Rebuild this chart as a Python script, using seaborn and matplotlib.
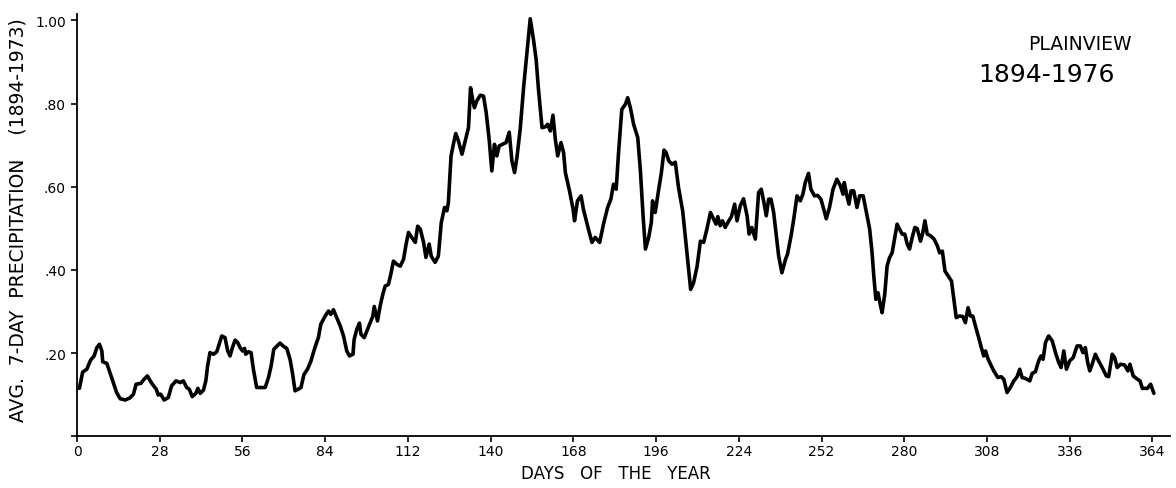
import matplotlib.pyplot as plt
import seaborn as sns
import pandas as pd

# day of year and 7-day average precipitation
day = [0.8, 1.9, 3.3, 4.6, 5.8, 6.7, 7.6, 8.4, 8.7, 10.1, 11.7, 13.4, 14.6, 16.3, 17.9, 19.1,
       20.0, 21.6, 22.7, 23.8, 25.3, 26.8, 27.5, 28.3, 29.5, 30.9, 32.0, 33.5, 34.9, 36.0, 37.1, 38.0,
       39.0, 40.2, 40.9, 41.7, 42.8, 43.6, 44.2, 45.0, 46.2, 47.3, 48.1, 49.0, 50.1, 51.0, 51.8, 52.6,
       53.5, 54.4, 55.2, 56.0, 56.7, 57.1, 58.0, 58.9, 59.7, 60.8, 62.5, 63.7, 64.8, 65.7, 66.6, 67.6,
       68.7, 69.9, 71.0, 72.1, 72.9, 73.8, 74.9, 75.8, 76.8, 78.0, 79.1, 80.0, 80.9, 81.7, 82.5, 84.0,
       85.1, 85.9, 86.8, 87.9, 89.1, 90.2, 91.3, 92.2, 93.4, 93.8, 94.7, 95.6, 96.1, 97.2, 98.1, 99.2,
       100.1, 100.6, 101.7, 102.6, 103.5, 104.3, 105.4, 106.2, 107.1, 108.3, 109.4, 110.5, 111.4, 112.2,
       113.3, 114.5, 115.3, 116.2, 117.3, 118.1, 119.2, 119.9, 121.2, 122.3, 123.3, 124.4, 125.2, 125.7,
       126.6, 127.5, 128.2, 129.1, 130.3, 131.4, 132.5, 133.2, 133.9, 134.5, 135.3, 136.5, 137.6, 138.5,
       139.5, 140.4, 141.3, 142.1, 142.9, 144.0, 145.2, 146.3, 147.2, 148.1, 148.9, 150.0, 151.2, 152.3,
       153.4, 154.5, 155.4, 156.2, 157.4, 158.5, 159.3, 160.2, 161.1, 161.9, 162.7, 163.8, 164.7, 165.3,
       166.7, 167.9, 168.4, 169.4, 170.6, 171.4, 173.1, 174.3, 175.4, 176.9, 178.2, 179.6, 180.7, 181.6,
       182.5, 183.3, 184.4, 185.6, 186.4, 187.3, 188.4, 189.8, 190.7, 191.6, 192.4, 193.5, 194.4, 194.8,
       195.7, 196.9, 197.8, 198.7, 199.4, 200.3, 201.4, 202.5, 203.6, 205.0, 206.1, 207.0, 207.7, 208.7,
       209.9, 211.0, 212.1, 213.2, 214.4, 215.5, 216.3, 216.9, 217.7, 218.5, 219.4, 220.3, 221.5, 222.6,
       223.4, 224.5, 225.6, 226.8, 227.5, 228.4, 229.6, 230.7, 231.6, 232.4, 233.3, 234.1, 234.9, 235.8,
       236.7, 237.5, 238.6, 239.8, 240.5, 241.7, 242.6, 243.7, 244.8, 245.7, 246.5, 247.6, 248.4, 249.6,
       250.7, 251.8, 252.9, 253.6, 254.7, 255.9, 257.2, 258.4, 259.3, 259.7, 260.6, 261.3, 262.0, 262.9,
       264.0, 264.9, 266.1, 267.2, 268.3, 269.1, 269.7, 270.4, 271.1, 271.8, 272.5, 273.4, 274.2, 275.0,
       275.9, 276.8, 277.6, 278.4, 279.3, 280.2, 281.0, 281.8, 282.7, 283.6, 284.4, 285.5, 286.3, 287.0,
       287.8, 288.9, 290.1, 291.2, 292.0, 292.9, 293.8, 294.9, 296.0, 296.8, 297.6, 298.7, 299.8, 300.7,
       301.6, 302.4, 303.2, 304.1, 305.2, 306.1, 306.9, 307.5, 308.4, 309.3, 310.3, 311.7, 312.8, 313.7,
       314.8, 315.9, 317.1, 318.2, 319.1, 319.9, 321.0, 322.5, 323.3, 324.4, 325.5, 326.3, 327.0, 327.8,
       328.9, 330.1, 331.2, 332.3, 333.1, 334.0, 334.9, 336.0, 337.2, 338.5, 339.6, 340.5, 341.3, 342.1,
       342.8, 343.6, 344.7, 345.8, 347.0, 348.4, 349.2, 350.4, 351.2, 352.1, 353.2, 354.6, 355.7, 356.4,
       357.5, 358.9, 359.8, 360.6, 362.3, 363.4, 364.5]

precip = [0.115, 0.154, 0.161, 0.183, 0.193, 0.213, 0.221, 0.205, 0.179, 0.175, 0.141, 0.105, 0.090, 0.087, 0.092, 0.101,
          0.125, 0.127, 0.137, 0.145, 0.127, 0.113, 0.099, 0.101, 0.087, 0.093, 0.121, 0.133, 0.129, 0.133, 0.117, 0.113,
          0.095, 0.103, 0.115, 0.103, 0.111, 0.133, 0.169, 0.201, 0.197, 0.203, 0.221, 0.241, 0.237, 0.205, 0.193, 0.213,
          0.231, 0.225, 0.213, 0.205, 0.211, 0.197, 0.203, 0.201, 0.161, 0.117, 0.117, 0.117, 0.141, 0.169, 0.209, 0.216,
          0.224, 0.216, 0.211, 0.185, 0.153, 0.109, 0.113, 0.117, 0.148, 0.161, 0.179, 0.201, 0.221, 0.237, 0.269, 0.289,
          0.301, 0.293, 0.304, 0.285, 0.265, 0.241, 0.205, 0.193, 0.197, 0.233, 0.257, 0.272, 0.245, 0.237, 0.253, 0.273,
          0.288, 0.312, 0.277, 0.313, 0.341, 0.361, 0.365, 0.389, 0.421, 0.413, 0.409, 0.425, 0.462, 0.490,
          0.478, 0.466, 0.505, 0.498, 0.466, 0.430, 0.462, 0.433, 0.418, 0.433, 0.514, 0.550, 0.542, 0.562,
          0.674, 0.706, 0.728, 0.710, 0.678, 0.710, 0.742, 0.838, 0.810, 0.790, 0.806, 0.820, 0.818, 0.778,
          0.714, 0.638, 0.702, 0.674, 0.698, 0.702, 0.706, 0.731, 0.662, 0.634, 0.670, 0.738, 0.842, 0.922,
          1.004, 0.954, 0.906, 0.834, 0.742, 0.744, 0.750, 0.734, 0.772, 0.714, 0.674, 0.706, 0.682, 0.634,
          0.590, 0.546, 0.518, 0.566, 0.578, 0.546, 0.498, 0.466, 0.478, 0.466, 0.510, 0.550, 0.570, 0.606,
          0.594, 0.682, 0.786, 0.798, 0.814, 0.790, 0.750, 0.718, 0.638, 0.530, 0.450, 0.478, 0.514, 0.566,
          0.538, 0.594, 0.634, 0.688, 0.682, 0.662, 0.654, 0.659, 0.598, 0.542, 0.466, 0.401, 0.353, 0.369,
          0.409, 0.469, 0.466, 0.498, 0.538, 0.522, 0.510, 0.528, 0.506, 0.518, 0.502, 0.514, 0.528, 0.558,
          0.518, 0.554, 0.571, 0.530, 0.486, 0.502, 0.474, 0.586, 0.594, 0.566, 0.530, 0.570, 0.570, 0.538,
          0.482, 0.433, 0.393, 0.425, 0.438, 0.482, 0.522, 0.578, 0.566, 0.582, 0.610, 0.632, 0.594, 0.578,
          0.579, 0.570, 0.542, 0.523, 0.550, 0.594, 0.618, 0.602, 0.582, 0.610, 0.578, 0.558, 0.590, 0.590,
          0.550, 0.578, 0.578, 0.538, 0.498, 0.442, 0.385, 0.329, 0.345, 0.320, 0.297, 0.341, 0.409, 0.429,
          0.441, 0.478, 0.510, 0.498, 0.486, 0.486, 0.462, 0.450, 0.478, 0.502, 0.499, 0.469, 0.490, 0.518,
          0.486, 0.482, 0.474, 0.458, 0.441, 0.445, 0.397, 0.385, 0.373, 0.329, 0.285, 0.289, 0.288, 0.273,
          0.309, 0.289, 0.289, 0.265, 0.237, 0.213, 0.193, 0.205, 0.185, 0.172, 0.157, 0.141, 0.143, 0.137,
          0.105, 0.117, 0.133, 0.143, 0.161, 0.141, 0.139, 0.133, 0.151, 0.155, 0.181, 0.193, 0.185, 0.225,
          0.241, 0.229, 0.201, 0.177, 0.165, 0.205, 0.161, 0.181, 0.189, 0.217, 0.217, 0.201, 0.213, 0.177,
          0.157, 0.173, 0.197, 0.181, 0.165, 0.145, 0.143, 0.197, 0.189, 0.165, 0.173, 0.171, 0.157, 0.173,
          0.145, 0.137, 0.133, 0.115, 0.115, 0.125, 0.103]

x_ticks = [0, 28, 56, 84, 112, 140, 168, 196, 224, 252, 280, 308, 336, 364]
y_ticks = [0, 0.2, 0.4, 0.6, 0.8, 1.0]
y_tick_labels = ["", ".20", ".40", ".60", ".80", "1.00"]

data = pd.DataFrame({"Day": day, "Precip": precip})

sns.set_style("ticks")
plt.rcParams['font.family'] = ['DejaVu Sans']
plt.rcParams['text.color'] = 'black'
plt.rcParams['axes.labelcolor'] = 'black'

fig = plt.figure(figsize=(11.76, 4.89), dpi=100)
ax = fig.add_axes([0.0655, 0.106, 0.9295, 0.863])

sns.lineplot(x="Day", y="Precip", data=data, color="black", linewidth=2.6,
             estimator=None, sort=False, ax=ax)

ax.set_xlim(0, 370)
ax.set_ylim(0, 1.015)
ax.set_xticks(x_ticks)
ax.set_xticklabels([str(t) for t in x_ticks], fontsize=10)
ax.set_yticks(y_ticks)
ax.set_yticklabels(y_tick_labels, fontsize=10)
ax.tick_params(axis="x", length=4, width=1.2, pad=2, colors="black")
ax.tick_params(axis="y", length=4, width=1.2, pad=4, colors="black")

for side in ["top", "right"]:
    ax.spines[side].set_visible(False)
for side in ["left", "bottom"]:
    ax.spines[side].set_linewidth(1.3)
    ax.spines[side].set_color("black")

ax.set_xlabel("DAYS   OF   THE   YEAR", fontsize=12, color="black")
ax.xaxis.set_label_coords(0.493, -0.065)
ax.xaxis.label.set_va("top")
ax.set_ylabel("AVG.  7-DAY  PRECIPITATION    (1894-1973)", fontsize=13.5, color="black")
ax.yaxis.set_label_coords(-0.045, 0.514)

fig.text(0.918, 0.908, "PLAINVIEW", fontsize=13.5, ha="center", va="center", color="black")
fig.text(0.890, 0.847, "1894-1976", fontsize=18, ha="center", va="center", color="black")

fig.savefig("out.png", dpi=100, facecolor="white")
